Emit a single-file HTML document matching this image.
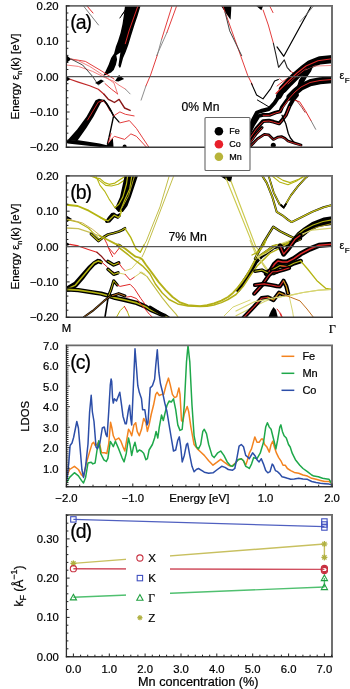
<!DOCTYPE html>
<html><head><meta charset="utf-8"><style>
html,body{margin:0;padding:0;background:#fff;}
svg{display:block;will-change:transform;}
</style></head><body>
<svg width="350" height="689" viewBox="0 0 350 689" font-family="Liberation Sans"><style>text{stroke:#000;stroke-width:0.22px;}</style>
<rect width="350" height="689" fill="#fff"/>
<defs><clipPath id="ca"><rect x="66.4" y="5.9" width="265.6" height="141.4"/></clipPath><clipPath id="cb"><rect x="66.4" y="175.9" width="265.6" height="141.4"/></clipPath><clipPath id="cc"><rect x="66.4" y="345.4" width="265.6" height="141.3"/></clipPath><clipPath id="cd"><rect x="66.4" y="514.9" width="265.6" height="141.80000000000007"/></clipPath></defs>
<g clip-path="url(#ca)">
<polyline points="83.5,6 98.5,25" fill="none" stroke="#808080" stroke-width="1.0" stroke-linejoin="round" stroke-linecap="round"/>
<polyline points="87,6 93,13" fill="none" stroke="#e02828" stroke-width="1.0" stroke-linejoin="round" stroke-linecap="round"/>
<polygon points="125,6 140.5,6 137.5,16 134.7,24.3 131,36 128.3,45 125.7,51.9 123.1,57.9 120.6,67.3 119.5,67.7 118.4,65.6 120.4,52.5 116.3,55.3 117.1,59.6 115.9,64.7 113.7,69.9 111.1,72.4 104.5,75.6 103.2,75.3 104.3,74.1 108.6,64.7 111.1,57.9 112.4,56.1 114.1,53.6 115.9,46.5 118,41 120.5,33 122.5,24 124,14" fill="#000"/>
<polyline points="137.9,6 129.3,30 125.3,43.7" fill="none" stroke="#e02828" stroke-width="1.0" stroke-linejoin="round" stroke-linecap="round"/>
<polyline points="119.9,18 126.7,8" fill="none" stroke="#000" stroke-width="1.0" stroke-linejoin="round" stroke-linecap="round"/>
<polyline points="122,15 128,7" fill="none" stroke="#000" stroke-width="0.8" stroke-linejoin="round" stroke-linecap="round"/>
<polygon points="66.4,55 71.2,59.3 66.4,63" fill="#000"/>
<polygon points="66.4,75.7 70.6,79.3 66.4,81.4" fill="#000"/>
<polyline points="71,59 85.4,61.4 101.1,70.7 114,79" fill="none" stroke="#e02828" stroke-width="0.9" stroke-linejoin="round" stroke-linecap="round"/>
<polyline points="66.4,65 78.3,66.4 92.6,71.4 104,77.1 114,81.4 119,85.2 125.4,89.1" fill="none" stroke="#f07070" stroke-width="0.9" stroke-linejoin="round" stroke-linecap="round"/>
<polyline points="71,59.5 78.3,60.7 89.7,66.4 99.7,72.9 106.9,77.9 114,83 117.6,93.9" fill="none" stroke="#f07070" stroke-width="0.9" stroke-linejoin="round" stroke-linecap="round"/>
<polyline points="71,59 82.6,65 92.6,76.4 98.3,85" fill="none" stroke="#333" stroke-width="0.9" stroke-linejoin="round" stroke-linecap="round"/>
<polyline points="125.4,89.1 130.1,93.9" fill="none" stroke="#808080" stroke-width="0.9" stroke-linejoin="round" stroke-linecap="round"/>
<polygon points="95,83 101,79.5 107,82.5 104,81 99,84.8" fill="#000"/>
<polygon points="115,80.9 119,75.1 124.1,79.1 118.4,81.4" fill="#000"/>
<polyline points="70,79.3 78.3,82.1 89.7,85.7 98.3,89.3 104,94.3" fill="none" stroke="#c02828" stroke-width="1.2" stroke-linejoin="round" stroke-linecap="round"/>
<polyline points="104,94.3 108.3,99.3 111,100.7 114.4,102.5 119.1,99.4 124.6,108 130.1,110.4" fill="none" stroke="#8a1818" stroke-width="1.4" stroke-linejoin="round" stroke-linecap="round"/>
<polyline points="105,83.6 111.3,89.1 117.6,93.9" fill="none" stroke="#e02828" stroke-width="0.9" stroke-linejoin="round" stroke-linecap="round"/>
<polygon points="66.4,141.4 77.3,129.3 86.6,116.4 95.6,100.2 99,98.8 104.5,100 104,101.6 101,102.4 93.6,116.4 86.4,127.9 77.9,140" fill="#000"/>
<polyline points="87.6,120 98.3,102.1 102.6,100.7" fill="none" stroke="#e02828" stroke-width="0.9" stroke-linejoin="round" stroke-linecap="round"/>
<polyline points="104,100.3 106.9,103.6 111.1,110.7 113.6,115.9 119.1,122.1" fill="none" stroke="#000" stroke-width="1.3" stroke-linejoin="round" stroke-linecap="round"/>
<polyline points="102.6,100.7 106.9,105 109.7,110.7" fill="none" stroke="#e02828" stroke-width="0.8" stroke-linejoin="round" stroke-linecap="round"/>
<polyline points="105,101.7 109.7,108.8 113.6,115.9 111.3,126.9 108.9,137.9 107.4,144.1" fill="none" stroke="#000" stroke-width="1.4" stroke-linejoin="round" stroke-linecap="round"/>
<polygon points="66.4,140.5 76.9,140 99.7,143.6 108,145.5 108,147.3 99.7,147.1 67.6,143.6 66.4,142.5" fill="#000"/>
<polygon points="105,147.3 112.9,137.9 113.5,147.3" fill="#000"/>
<polyline points="113.6,115.9 119.9,111.9 125.4,114.3 134.1,115.9" fill="none" stroke="#e02828" stroke-width="0.9" stroke-linejoin="round" stroke-linecap="round"/>
<polyline points="119.9,122.9 129.4,120.6 136.4,128.4 142.7,137.9 149,147.3" fill="none" stroke="#e02828" stroke-width="0.9" stroke-linejoin="round" stroke-linecap="round"/>
<polyline points="109.7,141 114.4,136.3 124.6,139.4 130.9,133.9 136.4,136.3 146.6,147.3" fill="none" stroke="#e02828" stroke-width="0.9" stroke-linejoin="round" stroke-linecap="round"/>
<polyline points="111.1,133.6 108.3,142.9" fill="none" stroke="#e02828" stroke-width="0.8" stroke-linejoin="round" stroke-linecap="round"/>
<circle cx="124.6" cy="146.5" r="2" fill="#000"/>
<polyline points="172,6 161.6,39.4" fill="none" stroke="#e02828" stroke-width="0.9" stroke-linejoin="round" stroke-linecap="round"/>
<polyline points="161.6,39.4 157.4,54.9" fill="none" stroke="#808080" stroke-width="0.9" stroke-linejoin="round" stroke-linecap="round"/>
<polyline points="157.4,54.9 150.6,75 145.9,86" fill="none" stroke="#e02828" stroke-width="0.9" stroke-linejoin="round" stroke-linecap="round"/>
<polyline points="145.9,86 141.1,100.1" fill="none" stroke="#808080" stroke-width="0.9" stroke-linejoin="round" stroke-linecap="round"/>
<polyline points="176.6,6 166.9,32.6" fill="none" stroke="#e02828" stroke-width="0.9" stroke-linejoin="round" stroke-linecap="round"/>
<polyline points="166.9,32.6 156.6,55.7" fill="none" stroke="#808080" stroke-width="0.9" stroke-linejoin="round" stroke-linecap="round"/>
<polygon points="221.1,6 231.4,6 230.6,19.7 226.3,13.7" fill="#000"/>
<polygon points="256.3,6 263.1,6 261.4,10.3" fill="#000"/>
<polyline points="222.9,6 247.7,75.4 252.5,85" fill="none" stroke="#e02828" stroke-width="0.9" stroke-linejoin="round" stroke-linecap="round"/>
<polyline points="225,12 229.7,30.9 241.7,55.7" fill="none" stroke="#444" stroke-width="1.0" stroke-linejoin="round" stroke-linecap="round"/>
<polyline points="263.1,10 268.3,25 273.4,43.3" fill="none" stroke="#e02828" stroke-width="0.9" stroke-linejoin="round" stroke-linecap="round"/>
<polyline points="273.4,43.3 275.7,53.6 278.6,67.3 284.3,59.9 287.1,67.3 290.6,71.3" fill="none" stroke="#222" stroke-width="1.1" stroke-linejoin="round" stroke-linecap="round"/>
<polyline points="290.6,71.3 295.1,74.1" fill="none" stroke="#e02828" stroke-width="0.9" stroke-linejoin="round" stroke-linecap="round"/>
<polyline points="269.7,6 273,12.6" fill="none" stroke="#e02828" stroke-width="0.9" stroke-linejoin="round" stroke-linecap="round"/>
<polyline points="311.4,6 283.8,56.3 277,46.9" fill="none" stroke="#000" stroke-width="1.2" stroke-linejoin="round" stroke-linecap="round"/>
<polyline points="313.7,6 300,21.7" fill="none" stroke="#808080" stroke-width="0.9" stroke-linejoin="round" stroke-linecap="round"/>
<polyline points="251.4,83.4 256.6,95 263,98.9 270.7,88.6 274.6,80.9 278.4,79.6" fill="none" stroke="#000" stroke-width="1.1" stroke-linejoin="round" stroke-linecap="round"/>
<polyline points="257.4,100 263.1,103.4 268.9,106.9" fill="none" stroke="#000" stroke-width="1.0" stroke-linejoin="round" stroke-linecap="round"/>
<polyline points="277.1,86 283.6,80.9 293.9,74.4" fill="none" stroke="#e02828" stroke-width="0.9" stroke-linejoin="round" stroke-linecap="round"/>
<polyline points="279.3,78.6 282.9,81.4 287.9,80 295,75.7" fill="none" stroke="#f07070" stroke-width="0.8" stroke-linejoin="round" stroke-linecap="round"/>
<polyline points="333,59 320,60.3 310,64.3 303,69.5 296,75.5 289,82.5 283,89" fill="none" stroke="#000" stroke-width="8.2" stroke-linejoin="round" stroke-linecap="round"/>
<polyline points="289,82.5 283,89 279,96" fill="none" stroke="#000" stroke-width="6" stroke-linejoin="round" stroke-linecap="round"/>
<polyline points="279,96 274.5,103 269,109 261,111 257,112.5 253,120 249.4,128.6" fill="none" stroke="#000" stroke-width="4.0" stroke-linejoin="round" stroke-linecap="round"/>
<polyline points="332,58.8 318,60.8 306,66 297,73 289,80.5 282,87.5 276,93.5" fill="none" stroke="#e02828" stroke-width="1.1" stroke-linejoin="round" stroke-linecap="round"/>
<polyline points="306,68.8 296,76.5 288,84" fill="none" stroke="#e02828" stroke-width="0.8" stroke-linejoin="round" stroke-linecap="round"/>
<polyline points="331,65.5 315,66 306,70" fill="none" stroke="#f07070" stroke-width="0.8" stroke-linejoin="round" stroke-linecap="round"/>
<polygon points="296,90 299,80 305,71 313,66.5 311,71.5 307,77 303,84 299,90" fill="#000"/>
<polyline points="333,79.7 320,80.8 310,82.8 301,87 295,92 290,97" fill="none" stroke="#000" stroke-width="7.0" stroke-linejoin="round" stroke-linecap="round"/>
<polyline points="290,97 287,100 282,107 280.3,111.4 275.7,112.5 269.4,114.9 263.1,114.9 258.6,116 253,125 249.4,132.6" fill="none" stroke="#000" stroke-width="3.8" stroke-linejoin="round" stroke-linecap="round"/>
<polyline points="332,79.5 320,80.5 310,82.5 301,87 295,92 290,97.5 286,103 282,108.5 280,111.8 275.7,113 269.4,115.3 263.1,115.3" fill="none" stroke="#e02828" stroke-width="1.0" stroke-linejoin="round" stroke-linecap="round"/>
<polyline points="249.5,138.5 256.3,128.6 263.1,121.1 268.9,120.6 273.4,121.7 279.1,123.4 282.6,119.4 286,114.9 289.6,106 293,100 297,95" fill="none" stroke="#000" stroke-width="3.8" stroke-linejoin="round" stroke-linecap="round"/>
<polyline points="250,138 256.3,129 263.1,121.5 268.9,121 273.4,122.1 279.1,123.8 282.6,119.8 286,115.3 289.6,106.4" fill="none" stroke="#e02828" stroke-width="1.0" stroke-linejoin="round" stroke-linecap="round"/>
<polyline points="249.5,143 256,134 262,127.5" fill="none" stroke="#000" stroke-width="3.0" stroke-linejoin="round" stroke-linecap="round"/>
<polyline points="250,143 256,134.3 262,128" fill="none" stroke="#e02828" stroke-width="0.9" stroke-linejoin="round" stroke-linecap="round"/>
<polyline points="282,115.3 285.7,123.4 288.3,133.5 290.4,138 294.7,143.1" fill="none" stroke="#000" stroke-width="1.3" stroke-linejoin="round" stroke-linecap="round"/>
<polyline points="250.6,146 257.4,138.9 264.3,134.3 268.9,134.9 273.4,139.4 278,137.1 281.4,136.6 284.9,138.3 288,141 294.7,143.1 301,145" fill="none" stroke="#000" stroke-width="2.8" stroke-linejoin="round" stroke-linecap="round"/>
<polyline points="250.6,146 257.4,139.2 264.3,134.6 268.9,135.2 273.4,139.7 278,137.4 281.4,136.9 284.9,138.6 288,141.3 294.7,143.4 301,145.3" fill="none" stroke="#e02828" stroke-width="0.9" stroke-linejoin="round" stroke-linecap="round"/>
<circle cx="273.3" cy="145.2" r="2.5" fill="#000"/>
<polyline points="295.1,100.4 299.6,101.7 305.4,110.7 311.2,121" fill="none" stroke="#e02828" stroke-width="1.0" stroke-linejoin="round" stroke-linecap="round"/>
<polyline points="311.2,121 315.7,129.3" fill="none" stroke="#808080" stroke-width="1.0" stroke-linejoin="round" stroke-linecap="round"/>
<polyline points="296.4,100.3 301.6,107.1 305,112.3" fill="none" stroke="#8a1818" stroke-width="0.8" stroke-linejoin="round" stroke-linecap="round"/>
</g>
<g clip-path="url(#cb)">
<polyline points="90.4,176 96,178 100,178.6 104.6,182.6 109.1,184.3 114.9,183.1 121.7,178.6 125.7,176" fill="none" stroke="#b4b410" stroke-width="1.2" stroke-linejoin="round" stroke-linecap="round"/>
<polyline points="93.3,176 100,180.9 105.7,185.4 111.4,186 118.3,184.3 125.1,179.7 128.6,176" fill="none" stroke="#b4b410" stroke-width="1.1" stroke-linejoin="round" stroke-linecap="round"/>
<polyline points="96,176 100,185.4 104.6,191.1 109.1,199.1 112.6,204.3 114.9,207.7 118.3,206" fill="none" stroke="#b4b410" stroke-width="1.1" stroke-linejoin="round" stroke-linecap="round"/>
<polyline points="66.4,204.7 77.7,206 88.7,210.7 99.7,217 104,219.5 107.6,221.7" fill="none" stroke="#b4b410" stroke-width="1.9" stroke-linejoin="round" stroke-linecap="round"/>
<polygon points="114.5,207.5 116,206 120,197 124.6,176 137.9,176 130.9,197 127.4,206 122.9,212 118.3,212" fill="#000"/>
<polyline points="114.9,207.7 118.9,204.3 122.9,196.9 126.5,184 127.6,176" fill="none" stroke="#b4b410" stroke-width="1.2" stroke-linejoin="round" stroke-linecap="round"/>
<polyline points="120,211.7 124.6,200.3 129.7,188.9 131.8,176" fill="none" stroke="#b4b410" stroke-width="1.2" stroke-linejoin="round" stroke-linecap="round"/>
<polyline points="121.7,208.3 128.6,195.7 134.5,176" fill="none" stroke="#a8a020" stroke-width="1.0" stroke-linejoin="round" stroke-linecap="round"/>
<polygon points="105,221.5 108,217 111.4,212.9 114,212.5 117.1,214.6 120,213 121,216 118,219 114.5,217.5 110,222.5 106,223" fill="#000"/>
<polyline points="100,217.4 108,220.9 114.3,215.1 118.3,217.4 120,215.7 121.5,211" fill="none" stroke="#b4b410" stroke-width="1.3" stroke-linejoin="round" stroke-linecap="round"/>
<polygon points="66.4,215.5 72,219 66.4,222.5" fill="#000"/>
<polyline points="66.4,219.4 78.3,222.3 88.3,228 95.4,235.1 99.7,239.4" fill="none" stroke="#b4b410" stroke-width="1.1" stroke-linejoin="round" stroke-linecap="round"/>
<polyline points="66.4,228 78.3,228.7 89.7,232.3 100,236" fill="none" stroke="#c8c058" stroke-width="1.3" stroke-linejoin="round" stroke-linecap="round"/>
<polyline points="66.4,218.7 82.6,223 92.6,229.4 99.7,235.1 104.7,239.4" fill="none" stroke="#c8b050" stroke-width="1.0" stroke-linejoin="round" stroke-linecap="round"/>
<polyline points="104.7,239.4 106.9,243.7 109.7,250.9 112.6,256.6" fill="none" stroke="#e02828" stroke-width="1.0" stroke-linejoin="round" stroke-linecap="round"/>
<polyline points="91,234 98.5,241 103,237.5 108,234.5 114,233 119,231.5 122.3,230 124.9,228.3" fill="none" stroke="#000" stroke-width="2.8" stroke-linejoin="round" stroke-linecap="round"/>
<polyline points="91,234 98.5,241 103,237.5 108,234.5 114,233 119,231.5 122.3,230 124.9,228.3" fill="none" stroke="#b4b410" stroke-width="1.2" stroke-linejoin="round" stroke-linecap="round"/>
<polyline points="124.9,228.3 130.9,237.7 136,248.9 140.3,252.3 144,245" fill="none" stroke="#b4b410" stroke-width="1.4" stroke-linejoin="round" stroke-linecap="round"/>
<polyline points="143,247 146.3,241.1 153.1,224 160,206.9 169.2,176" fill="none" stroke="#c2be48" stroke-width="1.0" stroke-linejoin="round" stroke-linecap="round"/>
<polygon points="66.4,242.3 70.4,244.4 66.4,245.9" fill="#000"/>
<polyline points="70,244.4 78.3,245.9 88.3,249.4 96.9,252.3" fill="none" stroke="#e02828" stroke-width="1.1" stroke-linejoin="round" stroke-linecap="round"/>
<polyline points="96.9,252.3 101.1,255.9 105.4,260.9 109.7,263.7 114,265.1" fill="none" stroke="#8a1818" stroke-width="1.3" stroke-linejoin="round" stroke-linecap="round"/>
<polygon points="66.4,286.5 74,282 81,274 88,266 93,261.5 97.5,258.8 100.5,259.3 103,261.5 101.5,264.5 98.5,263.5 95,265.5 90,271 84,279 77,287 70,291.5 66.4,292" fill="#000"/>
<polyline points="66.4,289.4 75.4,285.1 82.6,276.6 89.7,268 94,263 98.3,260.9 101.9,262.3" fill="none" stroke="#b4b410" stroke-width="1.6" stroke-linejoin="round" stroke-linecap="round"/>
<polyline points="101.9,262.3 106.9,266.6 111.1,270.9 114,272.3" fill="none" stroke="#e02828" stroke-width="1.0" stroke-linejoin="round" stroke-linecap="round"/>
<polyline points="66.4,289.4 78.3,290.1 92.6,292.3 101.1,293.7 109,295.9 115.1,297.9 125.1,300 136.6,302.9 145.1,306.4 150.9,310 158,312.9 164.3,315.7 168,318" fill="none" stroke="#000" stroke-width="4.4" stroke-linejoin="round" stroke-linecap="round"/>
<polyline points="66.4,289.4 78.3,290.1 92.6,292.3 101.1,293.7 109,295.9 115.1,297.9 125.1,300 136.6,302.9 145.1,306.4 150.9,310 158,312.9 164.3,315.7 168,318" fill="none" stroke="#b4b410" stroke-width="1.6" stroke-linejoin="round" stroke-linecap="round"/>
<polyline points="112.3,295.7 118.7,293.6 125,296" fill="none" stroke="#000" stroke-width="3" stroke-linejoin="round" stroke-linecap="round"/>
<polyline points="112.3,295.7 118.7,293.6 125,296" fill="none" stroke="#c07020" stroke-width="1.0" stroke-linejoin="round" stroke-linecap="round"/>
<polyline points="108.3,296.6 111.1,289.4 113.7,280.7 117.3,285" fill="none" stroke="#000" stroke-width="3.0" stroke-linejoin="round" stroke-linecap="round"/>
<polyline points="108.3,296.6 111.1,289.4 113.7,280.7 117.3,285" fill="none" stroke="#b4b410" stroke-width="1.0" stroke-linejoin="round" stroke-linecap="round"/>
<polyline points="105,317 106.9,305.1 108.3,296.6" fill="none" stroke="#000" stroke-width="1.6" stroke-linejoin="round" stroke-linecap="round"/>
<polyline points="117.3,285 120.1,286.4 130.1,284.3 134.4,288.6 140.9,298.6 145.1,304.3" fill="none" stroke="#e02828" stroke-width="1.0" stroke-linejoin="round" stroke-linecap="round"/>
<polyline points="84,317 92.6,310.9 104,300.9 109.7,296.6" fill="none" stroke="#000" stroke-width="2.0" stroke-linejoin="round" stroke-linecap="round"/>
<polyline points="84,317 92.6,310.9 104,300.9 109.7,296.6" fill="none" stroke="#a06018" stroke-width="0.9" stroke-linejoin="round" stroke-linecap="round"/>
<polyline points="108,261.4 113.7,265 118.7,262.9" fill="none" stroke="#000" stroke-width="3.5" stroke-linejoin="round" stroke-linecap="round"/>
<polyline points="108,261.4 113.7,265 118.7,262.9" fill="none" stroke="#b4b410" stroke-width="1.2" stroke-linejoin="round" stroke-linecap="round"/>
<polyline points="118.7,262.9 122.3,267.9 125.1,270.7" fill="none" stroke="#e02828" stroke-width="1.0" stroke-linejoin="round" stroke-linecap="round"/>
<polyline points="125.1,270.7 131.6,268.6 136.6,262.9 140.9,258.6" fill="none" stroke="#d6d470" stroke-width="1.0" stroke-linejoin="round" stroke-linecap="round"/>
<polyline points="108,269.3 113.7,274.3 118,272.9" fill="none" stroke="#000" stroke-width="3.5" stroke-linejoin="round" stroke-linecap="round"/>
<polyline points="108,269.3 113.7,274.3 118,272.9" fill="none" stroke="#b4b410" stroke-width="1.2" stroke-linejoin="round" stroke-linecap="round"/>
<polyline points="118,272.9 125.1,274.3" fill="none" stroke="#d6d470" stroke-width="1.0" stroke-linejoin="round" stroke-linecap="round"/>
<polyline points="125.1,274.3 130.1,280 134.4,277.1" fill="none" stroke="#e02828" stroke-width="1.0" stroke-linejoin="round" stroke-linecap="round"/>
<polyline points="134.4,277.1 141.6,272.1 145.1,274.3" fill="none" stroke="#d6d470" stroke-width="1.0" stroke-linejoin="round" stroke-linecap="round"/>
<polygon points="115.9,246 118.7,243.5 122.3,245.5 118.7,247.5" fill="#000"/>
<polyline points="108,247.1 114.4,254.3 119.4,247.9" fill="none" stroke="#e02828" stroke-width="1.0" stroke-linejoin="round" stroke-linecap="round"/>
<polyline points="119.4,247.9 128,254.3" fill="none" stroke="#d6d470" stroke-width="1.0" stroke-linejoin="round" stroke-linecap="round"/>
<polyline points="126.6,297.1 130.9,296.4 136.6,298.6 142.3,305.7 149.4,314.3 152.3,317" fill="none" stroke="#e02828" stroke-width="1.0" stroke-linejoin="round" stroke-linecap="round"/>
<polyline points="116.6,317 120.1,310.7 124.4,306.4" fill="none" stroke="#b4b410" stroke-width="1.0" stroke-linejoin="round" stroke-linecap="round"/>
<polyline points="124.4,306.4 127.3,311.4" fill="none" stroke="#e02828" stroke-width="1.0" stroke-linejoin="round" stroke-linecap="round"/>
<polyline points="127.3,311.4 129.4,317" fill="none" stroke="#b4b410" stroke-width="1.0" stroke-linejoin="round" stroke-linecap="round"/>
<polyline points="173.7,176 147.1,245.4 144.4,252 142,257" fill="none" stroke="#c2be48" stroke-width="1.0" stroke-linejoin="round" stroke-linecap="round"/>
<polyline points="238,290 243.1,283 250.3,272 255.7,262 261.4,256 268.6,251 272.9,247.5 278.6,246 287.1,244.5 292.9,241.5 300,238.5" fill="none" stroke="#000" stroke-width="4.2" stroke-linejoin="round" stroke-linecap="round"/>
<polyline points="100,236 108,240 115,243.6 119.6,245.3 125.3,248.7 131,253.3 135.6,256.7 140.1,257.9 142.4,259.6 145.9,264.7 149.3,269.3 152.7,273.9 158.9,282.4 165.7,290.1 172.6,297 179.4,302.1 188,305.1 200,306.1 207,305.2 214,303.3 221.4,300.6 228,297 232.9,292.9 237,288.5 241.4,282.9 246,276.5 250.3,269.3 255.7,258.9 261.4,254.6 268.6,249.6 272.9,246 278.6,244.6 287.1,243.1 292.9,240.3 300,237.4" fill="none" stroke="#b4b018" stroke-width="1.9" stroke-linejoin="round" stroke-linecap="round"/>
<polyline points="119.6,248.1 126.4,253.3 133.3,259 137.9,262.4 142.4,265.8 147,270.5 150,274 155.4,284 162.3,293 169.1,299.5 177.7,303.9 188,306.1 200,306.4 207,306.3 214,305 221.4,302.6 228,299.5 236,294.5 243.1,286.5 250,276 257.1,266 264.3,258.9 270,253.1 278.6,248.9 285.7,244.6 292.9,241.7 300,239.6" fill="none" stroke="#b4b018" stroke-width="1.5" stroke-linejoin="round" stroke-linecap="round"/>
<polyline points="140,272.1 146.9,276.4 153.7,285.9 162.3,297.9 169.1,306.4 176,314.1 178,317" fill="none" stroke="#c0bc40" stroke-width="1.1" stroke-linejoin="round" stroke-linecap="round"/>
<polyline points="224.3,315.7 232.9,307.1 250,300" fill="none" stroke="#d6d470" stroke-width="1.0" stroke-linejoin="round" stroke-linecap="round"/>
<polyline points="236,315.7 250.3,308.6 264.6,301.4 276,297.1 289.3,295.6 303.1,292.5 318.6,290.2 331,289.4" fill="none" stroke="#d6d470" stroke-width="1.1" stroke-linejoin="round" stroke-linecap="round"/>
<polygon points="220.1,176 232.3,176 230.9,181.9 225.9,179.7" fill="#000"/>
<polyline points="225.9,178 253.7,246.9 257.4,254.3 261,261.4 264.6,267.1 270.3,274.3" fill="none" stroke="#cccA50" stroke-width="1.2" stroke-linejoin="round" stroke-linecap="round"/>
<polyline points="230.9,181 255.9,246.9 258.9,250" fill="none" stroke="#cccA50" stroke-width="1.2" stroke-linejoin="round" stroke-linecap="round"/>
<polyline points="266,240 263.1,245.7 258.9,250 257.4,251.4" fill="none" stroke="#b4b410" stroke-width="1.3" stroke-linejoin="round" stroke-linecap="round"/>
<polyline points="262.3,176 266.6,182.6 272.3,196.9 276.7,211.9 282.4,215.3 288.1,219.9 291.6,222.1 300.7,217.6 312.1,211.9 323.6,207.3 334,204.5" fill="none" stroke="#000" stroke-width="2.0" stroke-linejoin="round" stroke-linecap="round"/>
<polyline points="262.3,176 266.6,182.6 272.3,196.9 276.7,211.9 282.4,215.3 288.1,219.9 291.6,222.1 300.7,217.6 312.1,211.9 323.6,207.3 334,204.5" fill="none" stroke="#c4c018" stroke-width="1.3" stroke-linejoin="round" stroke-linecap="round"/>
<polyline points="268.7,176 273.7,192.6 279.4,204 283.7,207.6 290.9,195.4 298,186.1 305.1,178.3 308,176" fill="none" stroke="#000" stroke-width="1.8" stroke-linejoin="round" stroke-linecap="round"/>
<polyline points="268.7,176 273.7,192.6 279.4,204 283.7,207.6 290.9,195.4 298,186.1 305.1,178.3 308,176" fill="none" stroke="#c4c018" stroke-width="1.2" stroke-linejoin="round" stroke-linecap="round"/>
<polyline points="281,205 283.7,207.6 286,204" fill="none" stroke="#000" stroke-width="1.8" stroke-linejoin="round" stroke-linecap="round"/>
<polyline points="272.3,176 279.4,181.9 288,184.7 296.6,181.1 303.7,176" fill="none" stroke="#b4b410" stroke-width="1.1" stroke-linejoin="round" stroke-linecap="round"/>
<polyline points="275.9,176 283,180.4 290.1,182.6 299.4,179 305.1,176" fill="none" stroke="#b4b410" stroke-width="1.1" stroke-linejoin="round" stroke-linecap="round"/>
<polygon points="289.3,241.6 292.7,238.1 297.3,232.4 303,227.9 312.1,222.1 323.6,217.6 334,216 334,224.6 319,226.7 309.9,231.3 303,237 298.4,240.4 295,242.7 291,245" fill="#000"/>
<polyline points="291,242 297,235 304,229.5 313,225 323,221.5 334,219.5" fill="none" stroke="#b4b410" stroke-width="1.1" stroke-linejoin="round" stroke-linecap="round"/>
<polyline points="293,243 300,237 307,232 316,227.5 334,223" fill="none" stroke="#a89a18" stroke-width="1.0" stroke-linejoin="round" stroke-linecap="round"/>
<polyline points="334,227.9 312.1,230.1 300.7,234.7 292.7,239.3 277.9,245 266.4,253 255,258.7" fill="none" stroke="#d6d470" stroke-width="1.1" stroke-linejoin="round" stroke-linecap="round"/>
<polyline points="255,258.7 264.1,241.6 273.3,226.7 280.1,231.3 289.3,235.9 294,238" fill="none" stroke="#000" stroke-width="2.4" stroke-linejoin="round" stroke-linecap="round"/>
<polyline points="255,258.7 264.1,241.6 273.3,226.7 280.1,231.3 289.3,235.9 294,238" fill="none" stroke="#b4b410" stroke-width="1.2" stroke-linejoin="round" stroke-linecap="round"/>
<polyline points="280.1,246.1 283.6,254.1 289.3,247.3 295,239.3 300,235.5" fill="none" stroke="#000" stroke-width="5.0" stroke-linejoin="round" stroke-linecap="round"/>
<polyline points="280.1,246.1 283.6,254.1 289.3,247.3 295,239.3 300,235.5" fill="none" stroke="#e02828" stroke-width="1.2" stroke-linejoin="round" stroke-linecap="round"/>
<polyline points="250,240.3 255.7,254.6 262.9,263.1 267.1,268.9 270,271.7" fill="none" stroke="#d6d470" stroke-width="1.1" stroke-linejoin="round" stroke-linecap="round"/>
<polyline points="266,240 264.3,244.6 260,250.3 257.1,252.4 252,255" fill="none" stroke="#b4b410" stroke-width="1.3" stroke-linejoin="round" stroke-linecap="round"/>
<polyline points="335,244 319,245.3 309.9,249 300.7,253.8 293.9,258.7 287,262.1 282.4,262.1 277.9,261 274.4,264.4 271,270.1 266.4,273.6" fill="none" stroke="#000" stroke-width="5.2" stroke-linejoin="round" stroke-linecap="round"/>
<polyline points="335,244 319,245.3 309.9,249 300.7,253.8 293.9,258.7 287,262.1 282.4,262.1 277.9,261 274.4,264.4 271,270.1 266.4,273.6" fill="none" stroke="#e02828" stroke-width="1.5" stroke-linejoin="round" stroke-linecap="round"/>
<polyline points="272.1,270.1 280.1,265.6 287,266.7 293.9,263.3 300.7,261" fill="none" stroke="#000" stroke-width="4.5" stroke-linejoin="round" stroke-linecap="round"/>
<polyline points="272.1,270.1 280.1,265.6 287,266.7 293.9,263.3 300.7,261" fill="none" stroke="#b4b410" stroke-width="1.2" stroke-linejoin="round" stroke-linecap="round"/>
<polyline points="281,265.8 287,266.9" fill="none" stroke="#e02828" stroke-width="1.0" stroke-linejoin="round" stroke-linecap="round"/>
<polyline points="300.7,261 307.6,269 316.7,280.4 325.9,288.4 334,289.6" fill="none" stroke="#b4b410" stroke-width="1.3" stroke-linejoin="round" stroke-linecap="round"/>
<polyline points="255,271.3 261.9,270.1 268.7,273.6 273.3,273.6 278,271.5" fill="none" stroke="#000" stroke-width="3.5" stroke-linejoin="round" stroke-linecap="round"/>
<polyline points="255,271.3 261.9,270.1 268.7,273.6 273.3,273.6 278,271.5" fill="none" stroke="#b4b410" stroke-width="1.1" stroke-linejoin="round" stroke-linecap="round"/>
<polyline points="254.3,293.6 262.5,284.5 268.9,275.3 272.6,271.7 276.2,271.7 283.5,269.8 289,268" fill="none" stroke="#000" stroke-width="4.2" stroke-linejoin="round" stroke-linecap="round"/>
<polyline points="254.3,293.6 262.5,284.5 268.9,275.3 272.6,271.7 276.2,271.7 283.5,269.8 289,268" fill="none" stroke="#e02828" stroke-width="1.1" stroke-linejoin="round" stroke-linecap="round"/>
<polyline points="255,285 264.1,283.9 271,285 276.7,286.1 279.9,286.3 283.5,280.8 286.3,286.3 288.1,293.6" fill="none" stroke="#000" stroke-width="4.2" stroke-linejoin="round" stroke-linecap="round"/>
<polyline points="255,285 264.1,283.9 271,285 276.7,286.1 279.9,286.3 283.5,280.8 286.3,286.3 288.1,293.6" fill="none" stroke="#e02828" stroke-width="1.1" stroke-linejoin="round" stroke-linecap="round"/>
<polyline points="283.5,280.8 286.3,286.3 288.1,293.6" fill="none" stroke="#b4b410" stroke-width="1.0" stroke-linejoin="round" stroke-linecap="round"/>
<polyline points="243.3,318 254.3,306.4 261.6,298.2 268,297.3 273.5,300 279,292.7 283.5,294.5" fill="none" stroke="#000" stroke-width="4.2" stroke-linejoin="round" stroke-linecap="round"/>
<polyline points="243.3,318 254.3,306.4 261.6,298.2 268,297.3 273.5,300 279,292.7 283.5,294.5" fill="none" stroke="#e02828" stroke-width="1.1" stroke-linejoin="round" stroke-linecap="round"/>
<polyline points="268,297.3 273.5,300 279,292.7 283.5,294.5" fill="none" stroke="#b4b410" stroke-width="1.0" stroke-linejoin="round" stroke-linecap="round"/>
<polygon points="268,318 271,311 273.5,307 276,310 278,318" fill="#000"/>
<polyline points="277.1,309.1 280.8,313.7 282.6,318" fill="none" stroke="#e02828" stroke-width="1.0" stroke-linejoin="round" stroke-linecap="round"/>
<polyline points="236,311 254.3,301.8 272.6,298.2 289,295.4 303.1,292.5 318.6,290.2 334,289.4" fill="none" stroke="#d6d470" stroke-width="1.2" stroke-linejoin="round" stroke-linecap="round"/>
<polyline points="289,295.4 292.7,311.9 293.6,318" fill="none" stroke="#d6d470" stroke-width="1.0" stroke-linejoin="round" stroke-linecap="round"/>
<polyline points="283.5,294.5 290.8,297.3 300,300.9 307,309 314,318" fill="none" stroke="#c07020" stroke-width="1.0" stroke-linejoin="round" stroke-linecap="round"/>
<polyline points="150,307.1 164.3,315.7" fill="none" stroke="#000" stroke-width="3" stroke-linejoin="round" stroke-linecap="round"/>
<polyline points="280,313.3 281.5,317" fill="none" stroke="#e02828" stroke-width="1.0" stroke-linejoin="round" stroke-linecap="round"/>
</g>
<g clip-path="url(#cc)">
<polyline points="66.9,475.8 69.6,469.5 74.4,466.3 78.4,469.5 81.6,475 83.5,476.6 86.4,463 89.6,451.9 92,443.9 93.6,442.3 95.1,445.5 97.5,444 99.1,441.5 101.5,452.7 104.7,452.7 106.8,453.5 108.7,444 110.6,422.3 111.9,428 113.3,435.8 115.4,440.2 118.7,438 120.9,441.2 123,446.7 124.8,451 126.3,442.3 128.5,429.3 130,431.4 131.7,435.8 133.9,424.9 135.7,422.7 137.2,431.4 139.3,435.8 141.5,429.3 143.7,418.4 145.9,422.7 147.4,431.4 149.1,424.9 151.3,414 153.5,405.3 155.7,394.4 157.2,392.3 159.3,395.5 161.5,394.4 163.7,394.4 165.9,385.7 168.5,378.1 170.2,384.6 172.4,394.4 174.6,397.7 176.7,396.6 178.9,387.9 180,394.4 181.5,420.6 182.8,421.6 184.3,414 187.2,406.4 188.7,411.8 190.9,427.1 194.1,444.5 197.4,448.9 200.7,452 204.3,455.4 208.7,460.8 213,465.2 217.4,461.9 220.7,459.3 223.9,461.9 228.3,465.2 231.5,466.3 234.8,463.7 238,459.7 241.3,458.7 243.5,460.8 245.7,465.2 247.2,460.8 249.3,453.2 251.5,448.9 254.8,436.9 257,442.3 259.1,442.3 261.3,439.1 262.8,439.1 264.6,444.5 266.7,446.7 269.3,452.1 271.1,444.5 272.8,441.2 274.3,446.7 276.5,453.2 278.7,457.6 280.9,460.8 283,465.2 285.2,465.2 287.4,468.5 290.7,470.6 294.3,472.4 298.7,473.2 303,475 307.4,476.1 311.7,478.3 316.1,479.3 320.4,480.4 324.8,481.5 329.1,481.5 332,484" fill="none" stroke="#f3831f" stroke-width="1.5" stroke-linejoin="round" stroke-linecap="round"/>
<polyline points="66.9,482.2 69.6,477.4 74.4,472.7 78.4,475.8 81.6,480.6 83.5,483 85.6,477.4 88,463 91.2,462.3 92.8,463.9 95.1,463 97.5,447 98.8,440.7 100.7,453.5 103.9,459.9 106.3,461.5 107.9,458.3 110.3,441.5 111.9,444 113.3,446.7 115.4,441.2 118.7,448.9 122,457.6 124.1,461.9 126.3,453.2 128.5,438 130,444.5 131.7,455.4 133.5,446.7 135,442.3 137.2,452.1 139.3,450 141.5,451 143.7,453.2 145.9,459.7 147.4,458.7 149.1,450 152.4,444.5 154.6,438 156.1,431.4 157.8,438 159.3,427.1 161.5,415.1 163.3,420.6 164.8,414 167,405.3 169.1,401 171.3,402 173.5,398.8 175.7,409.7 177.8,424.9 180,430.4 182.2,429.3 184.3,405.3 186.5,361.8 188,345.4 189.8,361.8 192,405.3 194.1,435.8 196.3,446.7 198.5,448.9 200.7,444.5 202.8,431.4 204.3,429.3 206.5,433.6 208.7,444.5 212,455.4 214.1,457.6 217.4,453.2 220.7,451 223.9,455.4 227.2,461.9 230.4,465.8 232.6,466.3 234.8,464.1 238,459.7 241.3,458.7 243.5,460.8 245.7,466.3 247.8,467.4 249.3,468.5 251.5,464.1 253.7,457.6 257,458.7 260.2,453.2 263.5,442.3 265.7,427.1 267.4,422.7 269.3,427.1 271.1,429.3 273.3,438 275.9,448.9 277.6,440.2 279.8,427.1 280.9,424.9 282.4,431.4 284.1,435.8 286.3,438 288.5,444.5 290.2,447 292.2,453.2 295.4,459.7 299.8,465.2 303,468.5 307.4,471.7 311.7,475 313.9,476.1 318.3,476.7 322.6,478.3 327,478.9 329.1,479.3 332,484" fill="none" stroke="#1ea84a" stroke-width="1.5" stroke-linejoin="round" stroke-linecap="round"/>
<polyline points="66.9,479.8 68.8,463 70.1,445.5 72,443 73.6,437.5 76.8,421.5 78.4,428 80,447 81.9,469.5 83.5,477.4 85.6,466.3 88,444 89.6,412 91.2,395.2 92.4,412 94,421.5 96,447 97.5,448.7 99.9,443 102.3,428 104.3,427 105.9,434.3 107.1,436.7 108.7,412 110.3,384.8 111.1,379 111.7,381.4 112.6,398.8 113.3,403.1 114.3,398.8 116.5,401 119.8,392.3 121.3,403.1 123,416.2 125.2,423.8 126.3,423.8 128.5,409.7 129.6,405.3 130.7,418.4 131.7,424.9 133.5,383.5 135,348.7 136.5,368.3 137.8,385.7 139.3,392.3 141.5,398.8 142.6,409.7 144.8,409.7 147,424.9 148,422.7 150.2,387.9 152.4,385.7 154.6,379.2 155.7,366.1 157.3,349.8 158.9,372.7 160.4,383.5 162.6,392.3 164.8,403.1 167,411.8 169.1,424.9 171.3,438 173.5,451 175.7,450 177.8,440.2 179.3,436.9 180.7,446.7 182.2,461.9 184.3,455.4 186.5,444.5 187.6,443.4 189.8,455.4 192,466.3 194.1,471.7 196.3,469.5 198.5,468.5 200.7,469.8 202.8,471.2 204.3,472.2 208.7,473.2 213,472.8 217.4,469.5 221.7,466.3 225,467.4 228.3,469.5 232.6,470.2 234.8,468.5 237,457.6 239.1,446.2 241.3,444.5 243.5,446.7 245.7,455.4 247.8,457.1 249.3,458.7 252.6,452.8 254.8,455.4 257,459.7 259.1,461.9 261.3,458.7 263.5,464.1 265.7,470.6 267.8,472.8 270,471.7 272.2,464.1 273.3,465.2 275.4,470.6 277.6,471.7 279.8,473.9 282,476.7 284.1,477.2 287.4,478.3 290.7,479.3 294.3,478.9 298.7,478.3 303,478.9 307.4,479.3 311.7,481.5 316.1,482.6 320.4,483.3 324.8,483.7 329.1,484.1 332,485" fill="none" stroke="#2c4ea8" stroke-width="1.5" stroke-linejoin="round" stroke-linecap="round"/>
</g>
<g>
<line x1="73.4" y1="519.4" x2="324.4" y2="526.6" stroke="#5060c0" stroke-width="1.4"/>
<line x1="73.4" y1="563.4" x2="324.4" y2="544" stroke="#c8c060" stroke-width="1.4"/>
<line x1="73.4" y1="568.7" x2="324.4" y2="569.4" stroke="#d05060" stroke-width="1.4"/>
<line x1="73.4" y1="597.3" x2="324.4" y2="587" stroke="#50c070" stroke-width="1.4"/>
<line x1="324.4" y1="544" x2="324.4" y2="557.4" stroke="#c8c060" stroke-width="1.4"/>
<line x1="324.4" y1="578" x2="324.4" y2="587" stroke="#50c070" stroke-width="1.4"/>
<rect x="70.7" y="516.7" width="5.4" height="5.4" fill="none" stroke="#4050c0" stroke-width="1.1"/>
<line x1="70.4" y1="563.4" x2="76.4" y2="563.4" stroke="#b0b040" stroke-width="1.3"/>
<line x1="71.3" y1="561.3" x2="75.5" y2="565.5" stroke="#b0b040" stroke-width="1.3"/>
<line x1="73.4" y1="560.4" x2="73.4" y2="566.4" stroke="#b0b040" stroke-width="1.3"/>
<line x1="75.5" y1="561.3" x2="71.3" y2="565.5" stroke="#b0b040" stroke-width="1.3"/>
<circle cx="73.4" cy="568.7" r="3.1" fill="none" stroke="#c83040" stroke-width="1.1"/>
<polygon points="73.4,594.3 76.5,599.9 70.3,599.9" fill="none" stroke="#20a040" stroke-width="1.1"/>
<rect x="321.7" y="518.8" width="5.4" height="5.4" fill="none" stroke="#4050c0" stroke-width="1.1"/>
<rect x="321.7" y="521.8" width="5.4" height="5.4" fill="none" stroke="#4050c0" stroke-width="1.1"/>
<rect x="321.7" y="524.8" width="5.4" height="5.4" fill="none" stroke="#4050c0" stroke-width="1.1"/>
<line x1="321.4" y1="544" x2="327.4" y2="544" stroke="#b0b040" stroke-width="1.3"/>
<line x1="322.3" y1="541.9" x2="326.5" y2="546.1" stroke="#b0b040" stroke-width="1.3"/>
<line x1="324.4" y1="541" x2="324.4" y2="547" stroke="#b0b040" stroke-width="1.3"/>
<line x1="326.5" y1="541.9" x2="322.3" y2="546.1" stroke="#b0b040" stroke-width="1.3"/>
<line x1="321.4" y1="557.4" x2="327.4" y2="557.4" stroke="#b0b040" stroke-width="1.3"/>
<line x1="322.3" y1="555.3" x2="326.5" y2="559.5" stroke="#b0b040" stroke-width="1.3"/>
<line x1="324.4" y1="554.4" x2="324.4" y2="560.4" stroke="#b0b040" stroke-width="1.3"/>
<line x1="326.5" y1="555.3" x2="322.3" y2="559.5" stroke="#b0b040" stroke-width="1.3"/>
<circle cx="324.4" cy="568.5" r="3.1" fill="none" stroke="#c83040" stroke-width="1.1"/>
<circle cx="324.4" cy="569.5" r="3.1" fill="none" stroke="#c83040" stroke-width="1.1"/>
<circle cx="324.4" cy="570.5" r="3.1" fill="none" stroke="#c83040" stroke-width="1.1"/>
<polygon points="324.4,575 327.5,580.6 321.3,580.6" fill="none" stroke="#20a040" stroke-width="1.1"/>
<polygon points="324.4,584 327.5,589.6 321.3,589.6" fill="none" stroke="#20a040" stroke-width="1.1"/>
</g>
<line x1="65.8" y1="5.9" x2="333" y2="5.9" stroke="#6a6a6a" stroke-width="1.8"/>
<line x1="332" y1="5.9" x2="332" y2="147.3" stroke="#707070" stroke-width="2.0"/>
<line x1="65.8" y1="147.3" x2="333" y2="147.3" stroke="#3a3a3a" stroke-width="1.4"/>
<line x1="66.4" y1="5.3" x2="66.4" y2="147.9" stroke="#2e2e2e" stroke-width="1.3"/>
<line x1="65.8" y1="175.9" x2="333" y2="175.9" stroke="#6a6a6a" stroke-width="1.8"/>
<line x1="332" y1="175.9" x2="332" y2="317.3" stroke="#707070" stroke-width="2.0"/>
<line x1="65.8" y1="317.3" x2="333" y2="317.3" stroke="#3a3a3a" stroke-width="1.4"/>
<line x1="66.4" y1="175.3" x2="66.4" y2="317.9" stroke="#2e2e2e" stroke-width="1.3"/>
<line x1="65.8" y1="345.4" x2="333" y2="345.4" stroke="#6a6a6a" stroke-width="1.8"/>
<line x1="332" y1="345.4" x2="332" y2="486.7" stroke="#707070" stroke-width="2.0"/>
<line x1="65.8" y1="486.7" x2="333" y2="486.7" stroke="#3a3a3a" stroke-width="1.4"/>
<line x1="66.4" y1="344.8" x2="66.4" y2="487.3" stroke="#2e2e2e" stroke-width="1.3"/>
<line x1="65.8" y1="514.9" x2="333" y2="514.9" stroke="#6a6a6a" stroke-width="1.8"/>
<line x1="332" y1="514.9" x2="332" y2="656.7" stroke="#707070" stroke-width="2.0"/>
<line x1="65.8" y1="656.7" x2="333" y2="656.7" stroke="#3a3a3a" stroke-width="1.4"/>
<line x1="66.4" y1="514.3" x2="66.4" y2="657.3" stroke="#2e2e2e" stroke-width="1.3"/>
<line x1="66.4" y1="5.9" x2="69.6" y2="5.9" stroke="#222" stroke-width="1.0"/>
<line x1="66.4" y1="13" x2="68.4" y2="13" stroke="#222" stroke-width="1.0"/>
<line x1="66.4" y1="20" x2="68.4" y2="20" stroke="#222" stroke-width="1.0"/>
<line x1="66.4" y1="27.1" x2="68.4" y2="27.1" stroke="#222" stroke-width="1.0"/>
<line x1="66.4" y1="34.2" x2="68.4" y2="34.2" stroke="#222" stroke-width="1.0"/>
<line x1="66.4" y1="41.2" x2="69.6" y2="41.2" stroke="#222" stroke-width="1.0"/>
<line x1="66.4" y1="48.3" x2="68.4" y2="48.3" stroke="#222" stroke-width="1.0"/>
<line x1="66.4" y1="55.4" x2="68.4" y2="55.4" stroke="#222" stroke-width="1.0"/>
<line x1="66.4" y1="62.5" x2="68.4" y2="62.5" stroke="#222" stroke-width="1.0"/>
<line x1="66.4" y1="69.5" x2="68.4" y2="69.5" stroke="#222" stroke-width="1.0"/>
<line x1="66.4" y1="76.6" x2="69.6" y2="76.6" stroke="#222" stroke-width="1.0"/>
<line x1="66.4" y1="83.7" x2="68.4" y2="83.7" stroke="#222" stroke-width="1.0"/>
<line x1="66.4" y1="90.7" x2="68.4" y2="90.7" stroke="#222" stroke-width="1.0"/>
<line x1="66.4" y1="97.8" x2="68.4" y2="97.8" stroke="#222" stroke-width="1.0"/>
<line x1="66.4" y1="104.9" x2="68.4" y2="104.9" stroke="#222" stroke-width="1.0"/>
<line x1="66.4" y1="112" x2="69.6" y2="112" stroke="#222" stroke-width="1.0"/>
<line x1="66.4" y1="119" x2="68.4" y2="119" stroke="#222" stroke-width="1.0"/>
<line x1="66.4" y1="126.1" x2="68.4" y2="126.1" stroke="#222" stroke-width="1.0"/>
<line x1="66.4" y1="133.2" x2="68.4" y2="133.2" stroke="#222" stroke-width="1.0"/>
<line x1="66.4" y1="140.2" x2="68.4" y2="140.2" stroke="#222" stroke-width="1.0"/>
<line x1="66.4" y1="147.3" x2="69.6" y2="147.3" stroke="#222" stroke-width="1.0"/>
<line x1="66.4" y1="175.9" x2="69.6" y2="175.9" stroke="#222" stroke-width="1.0"/>
<line x1="66.4" y1="183" x2="68.4" y2="183" stroke="#222" stroke-width="1.0"/>
<line x1="66.4" y1="190" x2="68.4" y2="190" stroke="#222" stroke-width="1.0"/>
<line x1="66.4" y1="197.1" x2="68.4" y2="197.1" stroke="#222" stroke-width="1.0"/>
<line x1="66.4" y1="204.2" x2="68.4" y2="204.2" stroke="#222" stroke-width="1.0"/>
<line x1="66.4" y1="211.2" x2="69.6" y2="211.2" stroke="#222" stroke-width="1.0"/>
<line x1="66.4" y1="218.3" x2="68.4" y2="218.3" stroke="#222" stroke-width="1.0"/>
<line x1="66.4" y1="225.4" x2="68.4" y2="225.4" stroke="#222" stroke-width="1.0"/>
<line x1="66.4" y1="232.5" x2="68.4" y2="232.5" stroke="#222" stroke-width="1.0"/>
<line x1="66.4" y1="239.5" x2="68.4" y2="239.5" stroke="#222" stroke-width="1.0"/>
<line x1="66.4" y1="246.6" x2="69.6" y2="246.6" stroke="#222" stroke-width="1.0"/>
<line x1="66.4" y1="253.7" x2="68.4" y2="253.7" stroke="#222" stroke-width="1.0"/>
<line x1="66.4" y1="260.7" x2="68.4" y2="260.7" stroke="#222" stroke-width="1.0"/>
<line x1="66.4" y1="267.8" x2="68.4" y2="267.8" stroke="#222" stroke-width="1.0"/>
<line x1="66.4" y1="274.9" x2="68.4" y2="274.9" stroke="#222" stroke-width="1.0"/>
<line x1="66.4" y1="281.9" x2="69.6" y2="281.9" stroke="#222" stroke-width="1.0"/>
<line x1="66.4" y1="289" x2="68.4" y2="289" stroke="#222" stroke-width="1.0"/>
<line x1="66.4" y1="296.1" x2="68.4" y2="296.1" stroke="#222" stroke-width="1.0"/>
<line x1="66.4" y1="303.2" x2="68.4" y2="303.2" stroke="#222" stroke-width="1.0"/>
<line x1="66.4" y1="310.2" x2="68.4" y2="310.2" stroke="#222" stroke-width="1.0"/>
<line x1="66.4" y1="317.3" x2="69.6" y2="317.3" stroke="#222" stroke-width="1.0"/>
<line x1="66.4" y1="486.6" x2="68.5" y2="486.6" stroke="#1a1a1a" stroke-width="0.95"/>
<line x1="66.4" y1="484.6" x2="68.5" y2="484.6" stroke="#1a1a1a" stroke-width="0.95"/>
<line x1="66.4" y1="482.6" x2="68.5" y2="482.6" stroke="#1a1a1a" stroke-width="0.95"/>
<line x1="66.4" y1="480.5" x2="68.5" y2="480.5" stroke="#1a1a1a" stroke-width="0.95"/>
<line x1="66.4" y1="478.4" x2="68.5" y2="478.4" stroke="#1a1a1a" stroke-width="0.95"/>
<line x1="66.4" y1="476.4" x2="68.5" y2="476.4" stroke="#1a1a1a" stroke-width="0.95"/>
<line x1="66.4" y1="474.3" x2="68.5" y2="474.3" stroke="#1a1a1a" stroke-width="0.95"/>
<line x1="66.4" y1="472.3" x2="68.5" y2="472.3" stroke="#1a1a1a" stroke-width="0.95"/>
<line x1="66.4" y1="470.2" x2="68.5" y2="470.2" stroke="#1a1a1a" stroke-width="0.95"/>
<line x1="66.4" y1="468.2" x2="69.8" y2="468.2" stroke="#1a1a1a" stroke-width="0.95"/>
<line x1="66.4" y1="466.1" x2="68.5" y2="466.1" stroke="#1a1a1a" stroke-width="0.95"/>
<line x1="66.4" y1="464.1" x2="68.5" y2="464.1" stroke="#1a1a1a" stroke-width="0.95"/>
<line x1="66.4" y1="462.1" x2="68.5" y2="462.1" stroke="#1a1a1a" stroke-width="0.95"/>
<line x1="66.4" y1="460" x2="68.5" y2="460" stroke="#1a1a1a" stroke-width="0.95"/>
<line x1="66.4" y1="457.9" x2="68.5" y2="457.9" stroke="#1a1a1a" stroke-width="0.95"/>
<line x1="66.4" y1="455.9" x2="68.5" y2="455.9" stroke="#1a1a1a" stroke-width="0.95"/>
<line x1="66.4" y1="453.8" x2="68.5" y2="453.8" stroke="#1a1a1a" stroke-width="0.95"/>
<line x1="66.4" y1="451.8" x2="68.5" y2="451.8" stroke="#1a1a1a" stroke-width="0.95"/>
<line x1="66.4" y1="449.8" x2="68.5" y2="449.8" stroke="#1a1a1a" stroke-width="0.95"/>
<line x1="66.4" y1="447.7" x2="69.8" y2="447.7" stroke="#1a1a1a" stroke-width="0.95"/>
<line x1="66.4" y1="445.6" x2="68.5" y2="445.6" stroke="#1a1a1a" stroke-width="0.95"/>
<line x1="66.4" y1="443.6" x2="68.5" y2="443.6" stroke="#1a1a1a" stroke-width="0.95"/>
<line x1="66.4" y1="441.6" x2="68.5" y2="441.6" stroke="#1a1a1a" stroke-width="0.95"/>
<line x1="66.4" y1="439.5" x2="68.5" y2="439.5" stroke="#1a1a1a" stroke-width="0.95"/>
<line x1="66.4" y1="437.4" x2="68.5" y2="437.4" stroke="#1a1a1a" stroke-width="0.95"/>
<line x1="66.4" y1="435.4" x2="68.5" y2="435.4" stroke="#1a1a1a" stroke-width="0.95"/>
<line x1="66.4" y1="433.3" x2="68.5" y2="433.3" stroke="#1a1a1a" stroke-width="0.95"/>
<line x1="66.4" y1="431.3" x2="68.5" y2="431.3" stroke="#1a1a1a" stroke-width="0.95"/>
<line x1="66.4" y1="429.2" x2="68.5" y2="429.2" stroke="#1a1a1a" stroke-width="0.95"/>
<line x1="66.4" y1="427.2" x2="69.8" y2="427.2" stroke="#1a1a1a" stroke-width="0.95"/>
<line x1="66.4" y1="425.1" x2="68.5" y2="425.1" stroke="#1a1a1a" stroke-width="0.95"/>
<line x1="66.4" y1="423.1" x2="68.5" y2="423.1" stroke="#1a1a1a" stroke-width="0.95"/>
<line x1="66.4" y1="421" x2="68.5" y2="421" stroke="#1a1a1a" stroke-width="0.95"/>
<line x1="66.4" y1="419" x2="68.5" y2="419" stroke="#1a1a1a" stroke-width="0.95"/>
<line x1="66.4" y1="416.9" x2="68.5" y2="416.9" stroke="#1a1a1a" stroke-width="0.95"/>
<line x1="66.4" y1="414.9" x2="68.5" y2="414.9" stroke="#1a1a1a" stroke-width="0.95"/>
<line x1="66.4" y1="412.9" x2="68.5" y2="412.9" stroke="#1a1a1a" stroke-width="0.95"/>
<line x1="66.4" y1="410.8" x2="68.5" y2="410.8" stroke="#1a1a1a" stroke-width="0.95"/>
<line x1="66.4" y1="408.8" x2="68.5" y2="408.8" stroke="#1a1a1a" stroke-width="0.95"/>
<line x1="66.4" y1="406.7" x2="69.8" y2="406.7" stroke="#1a1a1a" stroke-width="0.95"/>
<line x1="66.4" y1="404.6" x2="68.5" y2="404.6" stroke="#1a1a1a" stroke-width="0.95"/>
<line x1="66.4" y1="402.6" x2="68.5" y2="402.6" stroke="#1a1a1a" stroke-width="0.95"/>
<line x1="66.4" y1="400.5" x2="68.5" y2="400.5" stroke="#1a1a1a" stroke-width="0.95"/>
<line x1="66.4" y1="398.5" x2="68.5" y2="398.5" stroke="#1a1a1a" stroke-width="0.95"/>
<line x1="66.4" y1="396.4" x2="68.5" y2="396.4" stroke="#1a1a1a" stroke-width="0.95"/>
<line x1="66.4" y1="394.4" x2="68.5" y2="394.4" stroke="#1a1a1a" stroke-width="0.95"/>
<line x1="66.4" y1="392.4" x2="68.5" y2="392.4" stroke="#1a1a1a" stroke-width="0.95"/>
<line x1="66.4" y1="390.3" x2="68.5" y2="390.3" stroke="#1a1a1a" stroke-width="0.95"/>
<line x1="66.4" y1="388.2" x2="68.5" y2="388.2" stroke="#1a1a1a" stroke-width="0.95"/>
<line x1="66.4" y1="386.2" x2="69.8" y2="386.2" stroke="#1a1a1a" stroke-width="0.95"/>
<line x1="66.4" y1="384.1" x2="68.5" y2="384.1" stroke="#1a1a1a" stroke-width="0.95"/>
<line x1="66.4" y1="382.1" x2="68.5" y2="382.1" stroke="#1a1a1a" stroke-width="0.95"/>
<line x1="66.4" y1="380" x2="68.5" y2="380" stroke="#1a1a1a" stroke-width="0.95"/>
<line x1="66.4" y1="378" x2="68.5" y2="378" stroke="#1a1a1a" stroke-width="0.95"/>
<line x1="66.4" y1="375.9" x2="68.5" y2="375.9" stroke="#1a1a1a" stroke-width="0.95"/>
<line x1="66.4" y1="373.9" x2="68.5" y2="373.9" stroke="#1a1a1a" stroke-width="0.95"/>
<line x1="66.4" y1="371.9" x2="68.5" y2="371.9" stroke="#1a1a1a" stroke-width="0.95"/>
<line x1="66.4" y1="369.8" x2="68.5" y2="369.8" stroke="#1a1a1a" stroke-width="0.95"/>
<line x1="66.4" y1="367.8" x2="68.5" y2="367.8" stroke="#1a1a1a" stroke-width="0.95"/>
<line x1="66.4" y1="365.7" x2="69.8" y2="365.7" stroke="#1a1a1a" stroke-width="0.95"/>
<line x1="66.4" y1="363.6" x2="68.5" y2="363.6" stroke="#1a1a1a" stroke-width="0.95"/>
<line x1="66.4" y1="361.6" x2="68.5" y2="361.6" stroke="#1a1a1a" stroke-width="0.95"/>
<line x1="66.4" y1="359.5" x2="68.5" y2="359.5" stroke="#1a1a1a" stroke-width="0.95"/>
<line x1="66.4" y1="357.5" x2="68.5" y2="357.5" stroke="#1a1a1a" stroke-width="0.95"/>
<line x1="66.4" y1="355.4" x2="68.5" y2="355.4" stroke="#1a1a1a" stroke-width="0.95"/>
<line x1="66.4" y1="353.4" x2="68.5" y2="353.4" stroke="#1a1a1a" stroke-width="0.95"/>
<line x1="66.4" y1="351.4" x2="68.5" y2="351.4" stroke="#1a1a1a" stroke-width="0.95"/>
<line x1="66.4" y1="349.3" x2="68.5" y2="349.3" stroke="#1a1a1a" stroke-width="0.95"/>
<line x1="66.4" y1="347.2" x2="68.5" y2="347.2" stroke="#1a1a1a" stroke-width="0.95"/>
<line x1="66.4" y1="486.7" x2="66.4" y2="483.5" stroke="#222" stroke-width="1.0"/>
<line x1="79.7" y1="486.7" x2="79.7" y2="484.7" stroke="#222" stroke-width="1.0"/>
<line x1="93" y1="486.7" x2="93" y2="484.7" stroke="#222" stroke-width="1.0"/>
<line x1="106.2" y1="486.7" x2="106.2" y2="484.7" stroke="#222" stroke-width="1.0"/>
<line x1="119.5" y1="486.7" x2="119.5" y2="484.7" stroke="#222" stroke-width="1.0"/>
<line x1="132.8" y1="486.7" x2="132.8" y2="483.5" stroke="#222" stroke-width="1.0"/>
<line x1="146.1" y1="486.7" x2="146.1" y2="484.7" stroke="#222" stroke-width="1.0"/>
<line x1="159.4" y1="486.7" x2="159.4" y2="484.7" stroke="#222" stroke-width="1.0"/>
<line x1="172.6" y1="486.7" x2="172.6" y2="484.7" stroke="#222" stroke-width="1.0"/>
<line x1="185.9" y1="486.7" x2="185.9" y2="484.7" stroke="#222" stroke-width="1.0"/>
<line x1="199.2" y1="486.7" x2="199.2" y2="483.5" stroke="#222" stroke-width="1.0"/>
<line x1="212.5" y1="486.7" x2="212.5" y2="484.7" stroke="#222" stroke-width="1.0"/>
<line x1="225.8" y1="486.7" x2="225.8" y2="484.7" stroke="#222" stroke-width="1.0"/>
<line x1="239" y1="486.7" x2="239" y2="484.7" stroke="#222" stroke-width="1.0"/>
<line x1="252.3" y1="486.7" x2="252.3" y2="484.7" stroke="#222" stroke-width="1.0"/>
<line x1="265.6" y1="486.7" x2="265.6" y2="483.5" stroke="#222" stroke-width="1.0"/>
<line x1="278.9" y1="486.7" x2="278.9" y2="484.7" stroke="#222" stroke-width="1.0"/>
<line x1="292.2" y1="486.7" x2="292.2" y2="484.7" stroke="#222" stroke-width="1.0"/>
<line x1="305.4" y1="486.7" x2="305.4" y2="484.7" stroke="#222" stroke-width="1.0"/>
<line x1="318.7" y1="486.7" x2="318.7" y2="484.7" stroke="#222" stroke-width="1.0"/>
<line x1="332" y1="486.7" x2="332" y2="483.5" stroke="#222" stroke-width="1.0"/>
<line x1="66.4" y1="656.6" x2="69.6" y2="656.6" stroke="#222" stroke-width="1.0"/>
<line x1="66.4" y1="648.8" x2="68.4" y2="648.8" stroke="#222" stroke-width="1.0"/>
<line x1="66.4" y1="640.9" x2="68.4" y2="640.9" stroke="#222" stroke-width="1.0"/>
<line x1="66.4" y1="633.1" x2="68.4" y2="633.1" stroke="#222" stroke-width="1.0"/>
<line x1="66.4" y1="625.2" x2="68.4" y2="625.2" stroke="#222" stroke-width="1.0"/>
<line x1="66.4" y1="617.4" x2="69.6" y2="617.4" stroke="#222" stroke-width="1.0"/>
<line x1="66.4" y1="609.5" x2="68.4" y2="609.5" stroke="#222" stroke-width="1.0"/>
<line x1="66.4" y1="601.6" x2="68.4" y2="601.6" stroke="#222" stroke-width="1.0"/>
<line x1="66.4" y1="593.8" x2="68.4" y2="593.8" stroke="#222" stroke-width="1.0"/>
<line x1="66.4" y1="586" x2="68.4" y2="586" stroke="#222" stroke-width="1.0"/>
<line x1="66.4" y1="578.1" x2="69.6" y2="578.1" stroke="#222" stroke-width="1.0"/>
<line x1="66.4" y1="570.2" x2="68.4" y2="570.2" stroke="#222" stroke-width="1.0"/>
<line x1="66.4" y1="562.4" x2="68.4" y2="562.4" stroke="#222" stroke-width="1.0"/>
<line x1="66.4" y1="554.6" x2="68.4" y2="554.6" stroke="#222" stroke-width="1.0"/>
<line x1="66.4" y1="546.7" x2="68.4" y2="546.7" stroke="#222" stroke-width="1.0"/>
<line x1="66.4" y1="538.9" x2="69.6" y2="538.9" stroke="#222" stroke-width="1.0"/>
<line x1="66.4" y1="531" x2="68.4" y2="531" stroke="#222" stroke-width="1.0"/>
<line x1="66.4" y1="523.2" x2="68.4" y2="523.2" stroke="#222" stroke-width="1.0"/>
<line x1="66.4" y1="515.3" x2="68.4" y2="515.3" stroke="#222" stroke-width="1.0"/>
<line x1="73.4" y1="656.7" x2="73.4" y2="653.5" stroke="#222" stroke-width="1.0"/>
<line x1="80.6" y1="656.7" x2="80.6" y2="654.7" stroke="#222" stroke-width="1.0"/>
<line x1="87.7" y1="656.7" x2="87.7" y2="654.7" stroke="#222" stroke-width="1.0"/>
<line x1="94.9" y1="656.7" x2="94.9" y2="654.7" stroke="#222" stroke-width="1.0"/>
<line x1="102.1" y1="656.7" x2="102.1" y2="654.7" stroke="#222" stroke-width="1.0"/>
<line x1="109.3" y1="656.7" x2="109.3" y2="653.5" stroke="#222" stroke-width="1.0"/>
<line x1="116.4" y1="656.7" x2="116.4" y2="654.7" stroke="#222" stroke-width="1.0"/>
<line x1="123.6" y1="656.7" x2="123.6" y2="654.7" stroke="#222" stroke-width="1.0"/>
<line x1="130.8" y1="656.7" x2="130.8" y2="654.7" stroke="#222" stroke-width="1.0"/>
<line x1="137.9" y1="656.7" x2="137.9" y2="654.7" stroke="#222" stroke-width="1.0"/>
<line x1="145.1" y1="656.7" x2="145.1" y2="653.5" stroke="#222" stroke-width="1.0"/>
<line x1="152.3" y1="656.7" x2="152.3" y2="654.7" stroke="#222" stroke-width="1.0"/>
<line x1="159.5" y1="656.7" x2="159.5" y2="654.7" stroke="#222" stroke-width="1.0"/>
<line x1="166.6" y1="656.7" x2="166.6" y2="654.7" stroke="#222" stroke-width="1.0"/>
<line x1="173.8" y1="656.7" x2="173.8" y2="654.7" stroke="#222" stroke-width="1.0"/>
<line x1="181" y1="656.7" x2="181" y2="653.5" stroke="#222" stroke-width="1.0"/>
<line x1="188.2" y1="656.7" x2="188.2" y2="654.7" stroke="#222" stroke-width="1.0"/>
<line x1="195.3" y1="656.7" x2="195.3" y2="654.7" stroke="#222" stroke-width="1.0"/>
<line x1="202.5" y1="656.7" x2="202.5" y2="654.7" stroke="#222" stroke-width="1.0"/>
<line x1="209.7" y1="656.7" x2="209.7" y2="654.7" stroke="#222" stroke-width="1.0"/>
<line x1="216.8" y1="656.7" x2="216.8" y2="653.5" stroke="#222" stroke-width="1.0"/>
<line x1="224" y1="656.7" x2="224" y2="654.7" stroke="#222" stroke-width="1.0"/>
<line x1="231.2" y1="656.7" x2="231.2" y2="654.7" stroke="#222" stroke-width="1.0"/>
<line x1="238.4" y1="656.7" x2="238.4" y2="654.7" stroke="#222" stroke-width="1.0"/>
<line x1="245.5" y1="656.7" x2="245.5" y2="654.7" stroke="#222" stroke-width="1.0"/>
<line x1="252.7" y1="656.7" x2="252.7" y2="653.5" stroke="#222" stroke-width="1.0"/>
<line x1="259.9" y1="656.7" x2="259.9" y2="654.7" stroke="#222" stroke-width="1.0"/>
<line x1="267" y1="656.7" x2="267" y2="654.7" stroke="#222" stroke-width="1.0"/>
<line x1="274.2" y1="656.7" x2="274.2" y2="654.7" stroke="#222" stroke-width="1.0"/>
<line x1="281.4" y1="656.7" x2="281.4" y2="654.7" stroke="#222" stroke-width="1.0"/>
<line x1="288.6" y1="656.7" x2="288.6" y2="653.5" stroke="#222" stroke-width="1.0"/>
<line x1="295.7" y1="656.7" x2="295.7" y2="654.7" stroke="#222" stroke-width="1.0"/>
<line x1="302.9" y1="656.7" x2="302.9" y2="654.7" stroke="#222" stroke-width="1.0"/>
<line x1="310.1" y1="656.7" x2="310.1" y2="654.7" stroke="#222" stroke-width="1.0"/>
<line x1="317.2" y1="656.7" x2="317.2" y2="654.7" stroke="#222" stroke-width="1.0"/>
<line x1="324.4" y1="656.7" x2="324.4" y2="653.5" stroke="#222" stroke-width="1.0"/>
<line x1="331.6" y1="656.7" x2="331.6" y2="654.7" stroke="#222" stroke-width="1.0"/>
<line x1="66.4" y1="76.6" x2="332" y2="76.6" stroke="#555" stroke-width="1.3"/>
<line x1="66.4" y1="246.6" x2="332" y2="246.6" stroke="#555" stroke-width="1.3"/>
<rect x="205" y="117.5" width="45" height="53" rx="1" fill="#fff" stroke="#666" stroke-width="1.1"/>
<circle cx="218.9" cy="131.2" r="4.3" fill="#000"/>
<circle cx="218.9" cy="144.2" r="4.3" fill="#e8202a"/>
<circle cx="218.9" cy="156.8" r="4.3" fill="#b8b43a"/>
<text x="229.3" y="134.4" font-size="9" text-anchor="start" font-family="Liberation Sans">Fe</text>
<text x="229.3" y="147.4" font-size="9" text-anchor="start" font-family="Liberation Sans">Co</text>
<text x="229.3" y="160" font-size="9" text-anchor="start" font-family="Liberation Sans">Mn</text>
<line x1="281.5" y1="356.3" x2="294.3" y2="356.3" stroke="#f3831f" stroke-width="1.5"/>
<text x="302.4" y="360.3" font-size="11" text-anchor="start" font-family="Liberation Sans">Fe</text>
<line x1="281.5" y1="373.3" x2="294.3" y2="373.3" stroke="#1ea84a" stroke-width="1.5"/>
<text x="302.4" y="377.3" font-size="11" text-anchor="start" font-family="Liberation Sans">Mn</text>
<line x1="281.5" y1="390.3" x2="294.3" y2="390.3" stroke="#2c4ea8" stroke-width="1.5"/>
<text x="302.4" y="394.3" font-size="11" text-anchor="start" font-family="Liberation Sans">Co</text>
<rect x="126" y="548" width="44" height="78" fill="#fff"/>
<circle cx="139.9" cy="558" r="3.1" fill="none" stroke="#c83040" stroke-width="1.1"/>
<rect x="137.2" y="575.4" width="5.4" height="5.4" fill="none" stroke="#4050c0" stroke-width="1.1"/>
<polygon points="139.9,594.6 143,600.2 136.8,600.2" fill="none" stroke="#20a040" stroke-width="1.1"/>
<line x1="137.3" y1="617.7" x2="142.5" y2="617.7" stroke="#b0b040" stroke-width="1.3"/>
<line x1="138.1" y1="615.9" x2="141.7" y2="619.5" stroke="#b0b040" stroke-width="1.3"/>
<line x1="139.9" y1="615.1" x2="139.9" y2="620.3" stroke="#b0b040" stroke-width="1.3"/>
<line x1="141.7" y1="615.9" x2="138.1" y2="619.5" stroke="#b0b040" stroke-width="1.3"/>
<text x="148.3" y="562" font-size="11.5" text-anchor="start" font-family="Liberation Sans">X</text>
<text x="148.3" y="582.1" font-size="11.5" text-anchor="start" font-family="Liberation Sans">K</text>
<text x="148.3" y="601.6" font-size="11.5" text-anchor="start" font-family="Liberation Serif">&#915;</text>
<text x="148.3" y="621.7" font-size="11.5" text-anchor="start" font-family="Liberation Sans">Z</text>
<text x="58.6" y="9.8" font-size="11.3" text-anchor="end" font-family="Liberation Sans">0.20</text>
<text x="58.6" y="179.8" font-size="11.3" text-anchor="end" font-family="Liberation Sans">0.20</text>
<text x="58.6" y="45.1" font-size="11.3" text-anchor="end" font-family="Liberation Sans">0.10</text>
<text x="58.6" y="215.2" font-size="11.3" text-anchor="end" font-family="Liberation Sans">0.10</text>
<text x="58.6" y="80.5" font-size="11.3" text-anchor="end" font-family="Liberation Sans">0.00</text>
<text x="58.6" y="250.5" font-size="11.3" text-anchor="end" font-family="Liberation Sans">0.00</text>
<text x="58.6" y="115.9" font-size="11.3" text-anchor="end" font-family="Liberation Sans">&#8722;0.10</text>
<text x="58.6" y="285.9" font-size="11.3" text-anchor="end" font-family="Liberation Sans">&#8722;0.10</text>
<text x="58.6" y="151.2" font-size="11.3" text-anchor="end" font-family="Liberation Sans">&#8722;0.20</text>
<text x="58.6" y="321.2" font-size="11.3" text-anchor="end" font-family="Liberation Sans">&#8722;0.20</text>
<text x="58.6" y="472.5" font-size="11.3" text-anchor="end" font-family="Liberation Sans">1.0</text>
<text x="58.6" y="452" font-size="11.3" text-anchor="end" font-family="Liberation Sans">2.0</text>
<text x="58.6" y="431.5" font-size="11.3" text-anchor="end" font-family="Liberation Sans">3.0</text>
<text x="58.6" y="411" font-size="11.3" text-anchor="end" font-family="Liberation Sans">4.0</text>
<text x="58.6" y="390.5" font-size="11.3" text-anchor="end" font-family="Liberation Sans">5.0</text>
<text x="58.6" y="370" font-size="11.3" text-anchor="end" font-family="Liberation Sans">6.0</text>
<text x="58.6" y="349.5" font-size="11.3" text-anchor="end" font-family="Liberation Sans">7.0</text>
<text x="58.8" y="660.5" font-size="11.3" text-anchor="end" font-family="Liberation Sans">0.00</text>
<text x="58.8" y="621.2" font-size="11.3" text-anchor="end" font-family="Liberation Sans">0.10</text>
<text x="58.8" y="582" font-size="11.3" text-anchor="end" font-family="Liberation Sans">0.20</text>
<text x="58.8" y="542.8" font-size="11.3" text-anchor="end" font-family="Liberation Sans">0.30</text>
<text x="66.5" y="502" font-size="11.3" text-anchor="middle" font-family="Liberation Sans">&#8722;2.0</text>
<text x="132.8" y="502" font-size="11.3" text-anchor="middle" font-family="Liberation Sans">&#8722;1.0</text>
<text x="265.5" y="502" font-size="11.3" text-anchor="middle" font-family="Liberation Sans">1.0</text>
<text x="332" y="502" font-size="11.3" text-anchor="middle" font-family="Liberation Sans">2.0</text>
<text x="199.3" y="502" font-size="11.5" text-anchor="middle" font-family="Liberation Sans">Energy [eV]</text>
<text x="73.4" y="672.8" font-size="11.3" text-anchor="middle" font-family="Liberation Sans">0.0</text>
<text x="109.3" y="672.8" font-size="11.3" text-anchor="middle" font-family="Liberation Sans">1.0</text>
<text x="145.1" y="672.8" font-size="11.3" text-anchor="middle" font-family="Liberation Sans">2.0</text>
<text x="181" y="672.8" font-size="11.3" text-anchor="middle" font-family="Liberation Sans">3.0</text>
<text x="216.8" y="672.8" font-size="11.3" text-anchor="middle" font-family="Liberation Sans">4.0</text>
<text x="252.7" y="672.8" font-size="11.3" text-anchor="middle" font-family="Liberation Sans">5.0</text>
<text x="288.6" y="672.8" font-size="11.3" text-anchor="middle" font-family="Liberation Sans">6.0</text>
<text x="324.4" y="672.8" font-size="11.3" text-anchor="middle" font-family="Liberation Sans">7.0</text>
<text x="198.3" y="686" font-size="12.7" text-anchor="middle" font-family="Liberation Sans">Mn concentration (%)</text>
<text x="66.5" y="331.8" font-size="11.3" text-anchor="middle" font-family="Liberation Sans">M</text>
<text x="332.3" y="333.1" font-size="12.3" text-anchor="middle" font-family="Liberation Serif">&#915;</text>
<text x="339.6" y="78.9" font-size="10.8" text-anchor="start" font-family="Liberation Sans">&#949;</text>
<text x="344.7" y="82.8" font-size="8.0" text-anchor="start" font-family="Liberation Sans">F</text>
<text x="339.6" y="248.9" font-size="10.8" text-anchor="start" font-family="Liberation Sans">&#949;</text>
<text x="344.7" y="252.8" font-size="8.0" text-anchor="start" font-family="Liberation Sans">F</text>
<text x="70.2" y="29.2" font-size="19.5" text-anchor="start" font-family="Liberation Sans" letter-spacing="-1">(a)</text>
<text x="70.2" y="199.2" font-size="19.5" text-anchor="start" font-family="Liberation Sans" letter-spacing="-1">(b)</text>
<text x="70.2" y="368.5" font-size="19.5" text-anchor="start" font-family="Liberation Sans" letter-spacing="-1">(c)</text>
<text x="70.2" y="538.1" font-size="19.5" text-anchor="start" font-family="Liberation Sans" letter-spacing="-1">(d)</text>
<text x="181.6" y="110.9" font-size="13.3" text-anchor="start" font-family="Liberation Sans" textLength="37.8" lengthAdjust="spacingAndGlyphs">0% Mn</text>
<text x="168.5" y="241.4" font-size="13.3" text-anchor="start" font-family="Liberation Sans" textLength="38.3" lengthAdjust="spacingAndGlyphs">7% Mn</text>
<text transform="translate(18.9,76.5) rotate(-90)" font-size="11.5" text-anchor="middle" font-family="Liberation Sans">Energy &#949;<tspan font-size="7.5" dy="3">n</tspan><tspan dy="-3">(k) [eV]</tspan></text>
<text transform="translate(18.9,246.5) rotate(-90)" font-size="11.5" text-anchor="middle" font-family="Liberation Sans">Energy &#949;<tspan font-size="7.5" dy="3">n</tspan><tspan dy="-3">(k) [eV]</tspan></text>
<text transform="translate(28.6,416.3) rotate(-90)" font-size="11.3" text-anchor="middle" font-family="Liberation Sans">LDOS</text>
<text transform="translate(22.8,586) rotate(-90)" font-size="12" text-anchor="middle" font-family="Liberation Sans">k<tspan font-size="9" dy="3">F</tspan><tspan dy="-3"> (&#197;</tspan><tspan font-size="9" dy="-6">&#8722;1</tspan><tspan dy="6">)</tspan></text>
</svg>
</body></html>
